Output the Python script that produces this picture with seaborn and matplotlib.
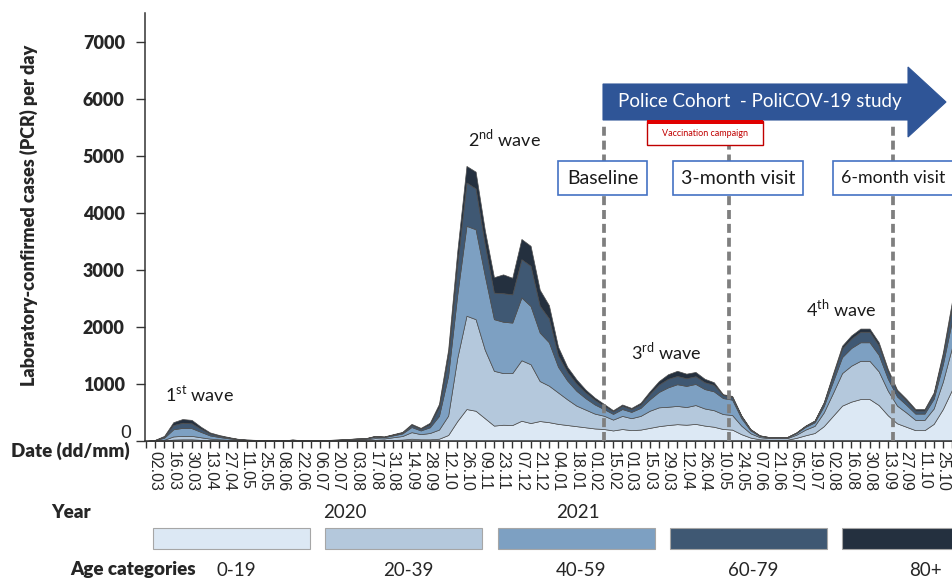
import numpy as np
import pandas as pd
import seaborn as sns
import matplotlib.pyplot as plt
from matplotlib.patches import Rectangle, Polygon

sns.set_style('ticks')
plt.rcParams['font.family'] = ['Lato', 'DejaVu Sans']
plt.rcParams['mathtext.fontset'] = 'custom'
plt.rcParams['mathtext.rm'] = 'Lato'

# weekly mean of PCR-confirmed cases per day, first week = 24.02.2020
start_week = '2020-02-24'
age_groups = ['0-19', '20-39', '40-59', '60-79', '80+']
age_colors = ['#dce8f4', '#b4c8dc', '#7da0c2', '#3f5873', '#24303f']

cases_0_19 = [0, 2, 7, 25, 30, 30, 20, 12, 8, 5, 3, 2, 2, 2, 2, 2, 4, 2, 2, 2,
              3, 4, 5, 7, 8, 14, 12, 18, 25, 40, 30, 30, 40, 105, 350, 560, 530, 400, 270, 285,
              280, 355, 315, 350, 330, 300, 280, 260, 240, 220, 210, 185, 210, 190, 200, 230, 260, 280, 295, 285,
              300, 270, 250, 210, 200, 120, 60, 30, 22, 22, 22, 55, 100, 140, 260, 440, 620, 690, 735, 735,
              630, 450, 310, 250, 190, 190, 300, 560, 900]
cases_20_39 = [0, 4, 15, 55, 60, 60, 45, 30, 22, 15, 10, 8, 7, 5, 5, 4, 9, 5, 4, 4,
               8, 10, 14, 18, 20, 36, 32, 48, 62, 115, 90, 110, 160, 340, 1110, 1635, 1605, 1200, 960, 905,
               910, 1060, 1030, 700, 640, 550, 450, 360, 310, 260, 233, 190, 230, 210, 240, 300, 330, 320, 320, 310,
               330, 300, 290, 262, 255, 150, 75, 38, 28, 28, 28, 55, 100, 125, 240, 400, 570, 630, 670, 670,
               590, 430, 310, 250, 180, 180, 270, 480, 740]
cases_40_59 = [0, 7, 35, 125, 140, 135, 95, 55, 40, 27, 15, 9, 7, 5, 5, 4, 8, 5, 4, 4,
               6, 7, 10, 13, 14, 25, 22, 33, 45, 90, 65, 100, 240, 700, 1110, 1575, 1575, 1300, 905, 900,
               885, 1100, 1020, 850, 760, 450, 330, 260, 200, 160, 117, 100, 120, 110, 140, 200, 270, 340, 380, 370,
               370, 340, 330, 280, 270, 130, 50, 22, 14, 14, 14, 28, 48, 62, 110, 200, 280, 310, 325, 325,
               290, 210, 160, 135, 110, 110, 170, 300, 470]
cases_60_79 = [0, 4, 20, 75, 90, 85, 55, 33, 22, 15, 8, 4, 3, 2, 2, 1, 3, 2, 1, 1,
               2, 3, 4, 5, 5, 10, 9, 14, 18, 35, 30, 50, 150, 330, 530, 760, 715, 550, 465, 500,
               495, 670, 705, 470, 420, 200, 150, 125, 100, 80, 58, 45, 55, 50, 60, 95, 130, 150, 145, 135,
               135, 120, 115, 55, 50, 40, 20, 8, 5, 5, 5, 10, 18, 26, 55, 105, 150, 165, 185, 185,
               165, 125, 90, 75, 55, 55, 80, 150, 240]
cases_80_plus = [0, 3, 13, 50, 65, 60, 35, 20, 13, 8, 4, 2, 1, 1, 1, 1, 1, 1, 1, 1,
                 1, 1, 2, 2, 3, 5, 5, 7, 10, 20, 15, 30, 60, 125, 230, 290, 295, 250, 270, 330,
                 290, 355, 350, 280, 230, 150, 90, 75, 50, 40, 32, 20, 25, 20, 30, 45, 60, 80, 90, 80,
                 75, 60, 45, 13, 15, 10, 5, 2, 1, 1, 1, 2, 4, 7, 15, 35, 50, 55, 55, 55,
                 55, 45, 30, 30, 25, 25, 30, 60, 100]

visit_names = ['Baseline', '3-month visit', '6-month visit']
visit_weeks = [49.0, 62.7, 80.6]
wave_labels = ['1$^{\\mathrm{st}}$ wave', '2$^{\\mathrm{nd}}$ wave',
               '3$^{\\mathrm{rd}}$ wave', '4$^{\\mathrm{th}}$ wave']
wave_weeks = [4.9, 38.1, 55.8, 74.9]
wave_heights = [820, 5310, 1580, 2330]
year_labels = ['2020', '2021']

weeks = pd.date_range(start_week, periods=len(cases_0_19), freq='7D')
x = np.arange(len(weeks)) - 1
tick_labels = [d.strftime('%d.%m') if (i >= 0 and i % 2 == 0) else ''
               for i, d in zip(x, weeks)]

W, H = 952, 580
def fx(px):
    return px / W
def fy(py):
    return 1 - py / H

fig = plt.figure(figsize=(9.52, 5.8), dpi=100)
ax = fig.add_axes([fx(145), fy(441), fx(952) - fx(145), fy(13) - fy(441)])

ax.stackplot(x, cases_0_19, cases_20_39, cases_40_59, cases_60_79, cases_80_plus,
             colors=age_colors, edgecolor='#4d4d4d', linewidth=0.5)

ax.set_xlim(-1.09, 86.72)
ax.set_ylim(0, 7500)
ax.set_yticks(range(0, 7001, 1000))
ax.set_yticklabels([''] + [str(v) for v in range(1000, 7001, 1000)],
                   fontweight='heavy', fontsize=13)
ax.set_xticks(x)
ax.set_xticklabels(tick_labels, rotation=-90, fontsize=11.5, family=['Liberation Sans'])
ax.tick_params(axis='y', length=6.5, width=1, pad=8, color='#333333')
ax.tick_params(axis='x', length=5, width=1, pad=2, color='#333333')
sns.despine(ax=ax)
for s in ['left', 'bottom']:
    ax.spines[s].set_color('#333333')
    ax.spines[s].set_linewidth(1.1)

# visit markers
ax.vlines(visit_weeks, 0, 5550, colors='#7f7f7f', linewidth=2.7,
          linestyles=(0, (2.4, 1.3)), zorder=5)

for lbl, wx, wy in zip(wave_labels, wave_weeks, wave_heights):
    ax.text(wx, wy, lbl, ha='center', va='center', fontsize=13, color='#1a1a1a')

# outer texts
fig.text(fx(29), fy(215), 'Laboratory-confirmed cases (PCR) per day', rotation=90,
         ha='center', va='center', fontsize=13, fontweight='heavy')
fig.text(fx(131), fy(433), '0', ha='right', va='center', fontsize=14,
         family=['Liberation Sans'])
fig.text(fx(70), fy(451), 'Date (dd/mm)', ha='center', va='center',
         fontsize=13.5, fontweight='heavy')
fig.text(fx(71), fy(512), 'Year', ha='center', va='center', fontsize=13.5, fontweight='heavy')
for yl, px in zip(year_labels, [345, 578]):
    fig.text(fx(px), fy(512), yl, ha='center', va='center', fontsize=13.5)

# age legend
fig.text(fx(133), fy(570), 'Age categories', ha='center', va='center',
         fontsize=13.5, fontweight='heavy')
for i, (grp, col) in enumerate(zip(age_groups, age_colors)):
    x0 = 153 + i * 172.3
    fig.add_artist(Rectangle((fx(x0), fy(549)), 157 / W, 21 / H, transform=fig.transFigure,
                             facecolor=col, edgecolor='#a6a6a6', linewidth=0.8))
    fig.text(fx(x0 + 83), fy(570), grp, ha='center', va='center', fontsize=13.5)

# cohort arrow
arrow_px = [(603, 84), (908, 84), (908, 67), (946, 102), (908, 137), (908, 120), (603, 120)]
fig.add_artist(Polygon([(fx(a), fy(b)) for a, b in arrow_px], closed=True,
                       transform=fig.transFigure, facecolor='#2f5597', edgecolor='#2f5597',
                       linewidth=0.8))
fig.text(fx(760), fy(102), 'Police Cohort  - PoliCOV-19 study', ha='center', va='center',
         fontsize=13.5, color='white', zorder=5)

# vaccination campaign
fig.add_artist(Rectangle((fx(647), fy(145)), 116 / W, 24 / H, transform=fig.transFigure,
                         facecolor='white', edgecolor='#c00000', linewidth=1, zorder=4))
fig.add_artist(Rectangle((fx(647), fy(124)), 116 / W, 4 / H, transform=fig.transFigure,
                         facecolor='#e00000', edgecolor='none', zorder=4))
fig.text(fx(705), fy(134), 'Vaccination campaign', ha='center', va='center',
         fontsize=6.5, color='#c00000', zorder=5)

# visit boxes (the last one runs past the right edge, as in the source figure)
box_px = [(558, 647), (673, 803), (833, 965)]
for name, (x0, x1) in zip(visit_names, box_px):
    fig.add_artist(Rectangle((fx(x0), fy(195)), (x1 - x0) / W, 34 / H, transform=fig.transFigure,
                             facecolor='white', edgecolor='#4472c4', linewidth=1.2, zorder=4))
    if x1 > W:
        fig.text(fx(x0 + 8), fy(178), name, ha='left', va='center',
                 fontsize=12.8, color='#1a1a1a', zorder=5)
    else:
        fig.text(fx((x0 + x1) / 2), fy(178), name, ha='center', va='center',
                 fontsize=14, color='#1a1a1a', zorder=5)

fig.savefig('out.png', dpi=100)
